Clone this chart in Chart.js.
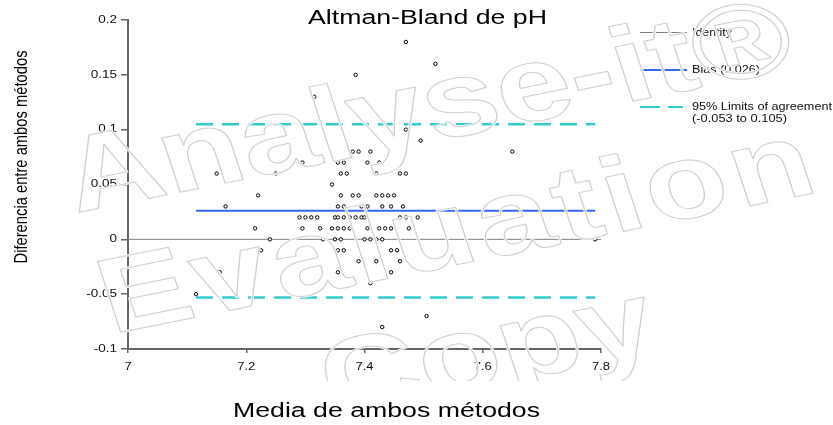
<!DOCTYPE html>
<html>
<head>
<meta charset="utf-8">
<script src="https://cdn.jsdelivr.net/npm/chart.js@4.4.1/dist/chart.umd.min.js"></script>
<style>
  html, body { margin: 0; padding: 0; background: #fff; }
  canvas { display: block; }
</style>
</head>
<body>
<canvas id="altman-bland" width="833" height="425"></canvas>
<script>
// mean of both methods (x) and difference between methods (y)
const meanPH = [
    7.47, 7.52, 7.385, 7.315, 7.47, 7.495,
    7.38, 7.39, 7.41, 7.65,
    7.295, 7.355, 7.365, 7.405, 7.425,
    7.15, 7.25, 7.36, 7.37, 7.42, 7.46, 7.47,
    7.345,
    7.22, 7.36, 7.38, 7.39, 7.42, 7.43, 7.44, 7.45,
    7.165, 7.355, 7.365, 7.395, 7.405, 7.43, 7.445, 7.465,
    7.29, 7.30, 7.31, 7.32, 7.35, 7.355, 7.365, 7.375, 7.385, 7.395, 7.40, 7.46, 7.47, 7.49,
    7.215, 7.295, 7.325, 7.345, 7.355, 7.365, 7.375, 7.405, 7.425, 7.435, 7.445, 7.475,
    7.24, 7.33, 7.35, 7.36, 7.40, 7.41, 7.42, 7.43, 7.79,
    7.225, 7.355, 7.365, 7.445, 7.455,
    7.39, 7.42, 7.46,
    7.155, 7.355, 7.445,
    7.41, 7.115, 7.505, 7.43
];
const diffPH = [
    0.18, 0.16, 0.15, 0.13, 0.10, 0.09,
    0.08, 0.08, 0.08, 0.08,
    0.07, 0.07, 0.07, 0.07, 0.07,
    0.06, 0.06, 0.06, 0.06, 0.06, 0.06, 0.06,
    0.05,
    0.04, 0.04, 0.04, 0.04, 0.04, 0.04, 0.04, 0.04,
    0.03, 0.03, 0.03, 0.03, 0.03, 0.03, 0.03, 0.03,
    0.02, 0.02, 0.02, 0.02, 0.02, 0.02, 0.02, 0.02, 0.02, 0.02, 0.02, 0.02, 0.02, 0.02,
    0.01, 0.01, 0.01, 0.01, 0.01, 0.01, 0.01, 0.01, 0.01, 0.01, 0.01, 0.01,
    0, 0, 0, 0, 0, 0, 0, 0, 0,
    -0.01, -0.01, -0.01, -0.01, -0.01,
    -0.02, -0.02, -0.02,
    -0.03, -0.03, -0.03,
    -0.04, -0.05, -0.07, -0.08
];

const bias = 0.026;
const lowerLimit = -0.053;
const upperLimit = 0.105;

const xTickValues = [7, 7.2, 7.4, 7.6, 7.8];
const xTickLabels = ["7", "7.2", "7.4", "7.6", "7.8"];
const yTickValues = [-0.1, -0.05, 0, 0.05, 0.1, 0.15, 0.2];
const yTickLabels = ["-0.1", "-0.05", "0", "0.05", "0.1", "0.15", "0.2"];

const chartTitle = "Altman-Bland de pH";
const xTitle = "Media de ambos métodos";
const yTitle = "Diferencia entre ambos métodos";
const legendLabels = ["Identity", "Bias (0.026)", "95% Limits of agreement", "(-0.053 to 0.105)"];
const watermarkLines = ["Analyse-it®", "Evaluation", "Copy"];

const FONT = '"Liberation Sans", Arial, sans-serif';
const GRAY = "#808080";
const BLUE = "#3366ff";
const CYAN = "#33cccc";

const xFirst = Math.min(...meanPH);
const xLast = Math.max(...meanPH);

// text squeezed / widened horizontally, the picture is stretched sideways
function drawText(ctx, text, x, y, size, opts) {
    opts = opts || {};
    ctx.save();
    ctx.font = size + "px " + FONT;
    ctx.fillStyle = opts.color || "#000";
    ctx.textAlign = "left";
    ctx.textBaseline = opts.baseline || "alphabetic";
    const w = ctx.measureText(text).width;
    const sx = opts.width ? opts.width / w : (opts.sx || 1);
    ctx.translate(x, y);
    if (opts.rotate) ctx.rotate(opts.rotate);
    let left = 0;
    if (opts.align === "center") left = -w * sx / 2;
    else if (opts.align === "right") left = -w * sx;
    ctx.translate(left, 0);
    ctx.scale(sx, opts.sy || 1);
    ctx.fillText(text, 0, 0);
    ctx.restore();
}

const textPlugin = {
    id: "textPlugin",
    afterDatasetsDraw(chart) {
        const ctx = chart.ctx;
        const xs = chart.scales.x;
        const ys = chart.scales.y;

        // tick labels
        xTickValues.forEach((v, i) => {
            drawText(ctx, xTickLabels[i], xs.getPixelForValue(v), 367, 10, {align: "center", baseline: "middle", sx: 1.3, color: "#111"});
        });
        yTickValues.forEach((v, i) => {
            drawText(ctx, yTickLabels[i], 117, ys.getPixelForValue(v), 10, {align: "right", baseline: "middle", sx: 1.35, color: "#111"});
        });

        // titles
        drawText(ctx, chartTitle, 308, 24, 19.5, {width: 239});
        drawText(ctx, xTitle, 233, 417, 19.5, {width: 307});
        drawText(ctx, yTitle, 27, 157, 14.3, {width: 213, sy: 1.3, align: "center", rotate: -Math.PI / 2});

        // legend
        ctx.save();
        ctx.strokeStyle = GRAY;
        ctx.lineWidth = 1;
        ctx.beginPath();
        ctx.moveTo(640, 32.5);
        ctx.lineTo(687, 32.5);
        ctx.stroke();
        ctx.strokeStyle = BLUE;
        ctx.lineWidth = 2;
        ctx.beginPath();
        ctx.moveTo(640, 70);
        ctx.lineTo(687, 70);
        ctx.stroke();
        ctx.strokeStyle = CYAN;
        ctx.lineWidth = 2;
        ctx.setLineDash([20, 8]);
        ctx.beginPath();
        ctx.moveTo(640, 107);
        ctx.lineTo(683, 107);
        ctx.stroke();
        ctx.restore();

        drawText(ctx, legendLabels[0], 692, 33, 11, {baseline: "middle", width: 40, color: "#111"});
        drawText(ctx, legendLabels[1], 692, 70, 11, {baseline: "middle", width: 68, color: "#111"});
        drawText(ctx, legendLabels[2], 692, 107, 11, {baseline: "middle", width: 140, color: "#111"});
        drawText(ctx, legendLabels[3], 692, 119, 11, {baseline: "middle", width: 95, color: "#111"});
    },
    afterDraw(chart) {
        // outlined watermark across the picture
        const ctx = chart.ctx;
        const starts = [[76, 213], [112, 334], [334, 417]];
        const spacing = ["0px", "4px", "0px"];
        const angle = Math.atan(0.257);
        ctx.save();
        ctx.beginPath();
        ctx.rect(0, 0, 833, 381);
        ctx.clip();
        ctx.font = 'bold 106px "Liberation Sans", Arial, sans-serif';
        ctx.lineJoin = "round";
        watermarkLines.forEach((txt, i) => {
            ctx.save();
            ctx.letterSpacing = spacing[i];
            ctx.translate(starts[i][0], starts[i][1]);
            ctx.scale(1.28, 1);
            ctx.rotate(-angle);
            ctx.strokeStyle = "rgba(255,255,255,0.9)";
            ctx.lineWidth = 2.5;
            ctx.strokeText(txt, 0, 0);
            ctx.strokeStyle = "#d0d0d0";
            ctx.lineWidth = 1;
            ctx.strokeText(txt, 0, 0);
            ctx.restore();
        });
        ctx.restore();
    }
};

function hLine(y, x0, x1) {
    return [{x: x0, y: y}, {x: x1, y: y}];
}

const points = meanPH.map((m, i) => ({x: m, y: diffPH[i]}));

new Chart(document.getElementById("altman-bland"), {
    type: "scatter",
    data: {
        datasets: [
            {
                data: points,
                pointRadius: 1.7,
                pointBorderWidth: 1,
                pointBorderColor: "#000",
                pointBackgroundColor: "#fff",
                showLine: false
            },
            {
                data: hLine(0, 7, 7.8),
                type: "line",
                borderColor: GRAY,
                borderWidth: 1,
                pointRadius: 0
            },
            {
                data: hLine(bias, xFirst, xLast),
                type: "line",
                borderColor: BLUE,
                borderWidth: 2,
                pointRadius: 0
            },
            {
                data: hLine(upperLimit, xFirst, xLast),
                type: "line",
                borderColor: CYAN,
                borderWidth: 2.5,
                borderDash: [17, 9],
                pointRadius: 0
            },
            {
                data: hLine(lowerLimit, xFirst, xLast),
                type: "line",
                borderColor: CYAN,
                borderWidth: 2.5,
                borderDash: [17, 9],
                pointRadius: 0
            }
        ]
    },
    options: {
        responsive: false,
        animation: false,
        devicePixelRatio: 1,
        layout: {
            padding: {left: 0, top: 20, right: 232, bottom: 0}
        },
        plugins: {
            legend: {display: false},
            title: {display: false},
            tooltip: {enabled: false}
        },
        scales: {
            x: {
                type: "linear",
                min: 7,
                max: 7.8,
                afterBuildTicks: (scale) => {
                    scale.ticks = xTickValues.map(v => ({value: v}));
                },
                afterFit: (scale) => {
                    scale.height = 76;
                },
                ticks: {display: false},
                grid: {
                    drawOnChartArea: false,
                    drawTicks: true,
                    tickLength: 4,
                    color: "#666",
                    lineWidth: 1.5
                },
                border: {display: true, color: "#666", width: 2}
            },
            y: {
                type: "linear",
                min: -0.1,
                max: 0.2,
                afterBuildTicks: (scale) => {
                    scale.ticks = yTickValues.map(v => ({value: v}));
                },
                afterFit: (scale) => {
                    scale.width = 128;
                },
                ticks: {display: false},
                grid: {
                    drawOnChartArea: false,
                    drawTicks: true,
                    tickLength: 7,
                    color: "#666",
                    lineWidth: 1.5
                },
                border: {display: true, color: "#666", width: 2}
            }
        }
    },
    plugins: [textPlugin]
});
</script>
</body>
</html>
